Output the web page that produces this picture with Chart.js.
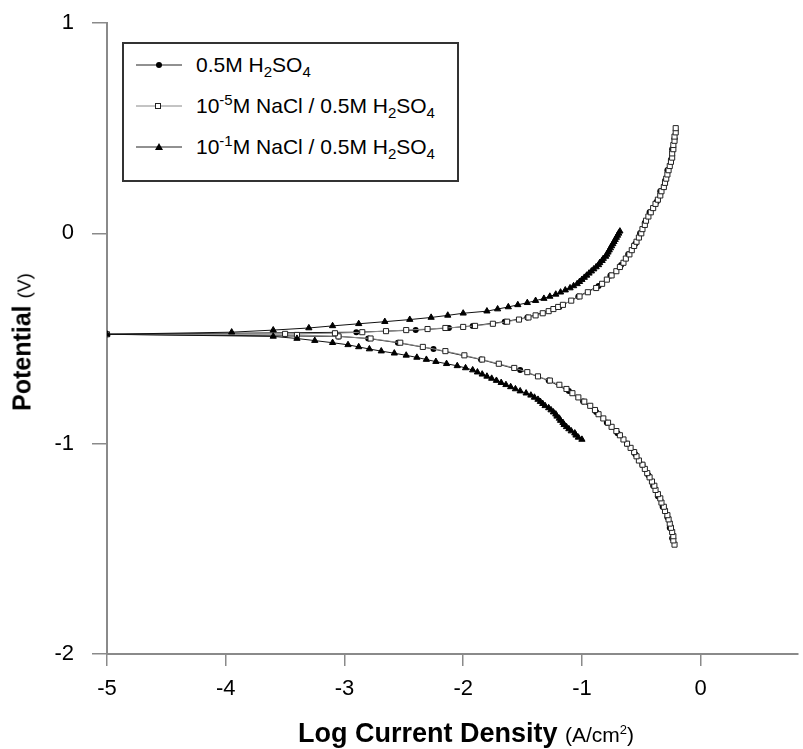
<!DOCTYPE html>
<html>
<head>
<meta charset="utf-8">
<script src="https://cdn.jsdelivr.net/npm/chart.js@4/dist/chart.umd.min.js"></script>
<style>
  html, body { margin: 0; padding: 0; background: #fff; }
  #wrap { position: relative; width: 803px; height: 749px; font-family: "Liberation Sans", Arial, sans-serif; color: #000; }
  #c { position: absolute; left: 0; top: 0; }
  .ttl { position: absolute; white-space: nowrap; font-size: 25px; }
  .ttl b { font-weight: bold; }
  .ttl span { font-size: 19px; }
  #ytitle { left: 22px; top: 342px; transform: translate(-50%, -50%) rotate(-90deg); }
  #xtitle { left: 466px; top: 733px; transform: translate(-50%, -50%); font-size: 27px; }
  #xtitle span { font-size: 21px; }
  #legend { position: absolute; left: 122px; top: 42px; width: 333px; height: 136px; border: 2px solid #333; background: #fff; }
  #legend .row { position: absolute; left: 0; height: 30px; font-size: 21px; line-height: 30px; white-space: nowrap; }
  #legend svg { position: absolute; left: 10px; top: 7px; }
  #legend .txt { position: absolute; left: 72px; top: 0; }
  #legend sub, #legend sup { font-size: 15px; line-height: 0; }
</style>
</head>
<body>
<div id="wrap">
  <canvas id="c" width="803" height="749"></canvas>
  <div id="legend">
    <div class="row" style="top:6px">
      <svg width="50" height="16"><line x1="2" y1="8" x2="48" y2="8" stroke="#222" stroke-width="1"/><circle cx="25" cy="8" r="3" fill="#000"/></svg>
      <span class="txt">0.5M H<sub>2</sub>SO<sub>4</sub></span>
    </div>
    <div class="row" style="top:47px">
      <svg width="50" height="16"><line x1="2" y1="8" x2="48" y2="8" stroke="#888" stroke-width="1"/><rect x="21.5" y="5.5" width="5" height="5" fill="#fff" stroke="#222" stroke-width="1"/></svg>
      <span class="txt">10<sup>-5</sup>M NaCl / 0.5M H<sub>2</sub>SO<sub>4</sub></span>
    </div>
    <div class="row" style="top:88px">
      <svg width="50" height="16"><line x1="2" y1="8" x2="48" y2="8" stroke="#222" stroke-width="1"/><polygon points="25,4 29,11 21,11" fill="#000"/></svg>
      <span class="txt">10<sup>-1</sup>M NaCl / 0.5M H<sub>2</sub>SO<sub>4</sub></span>
    </div>
  </div>
  <div id="ytitle" class="ttl"><b>Potential</b> <span>(V)</span></div>
  <div id="xtitle" class="ttl"><b>Log Current Density</b> <span>(A/cm<sup style="font-size:13px">2</sup>)</span></div>
</div>
<script>
// axes
var xTicks = [-5, -4, -3, -2, -1, 0];
var yTicks = [-2, -1, 0, 1];

// 0.5M H2SO4 (filled circles)
var s1Pot = [-1.45, -1.40, -1.35, -1.30, -1.25, -1.20, -1.15, -1.10, -1.05, -1.00, -0.95, -0.90, -0.85, -0.80, -0.75, -0.70, -0.65, -0.60, -0.55, -0.52, -0.50, -0.49, -0.48,
  -0.47, -0.46, -0.45, -0.44, -0.42, -0.40, -0.35, -0.30, -0.25, -0.20, -0.15, -0.10, -0.05, 0.00, 0.05, 0.10, 0.15, 0.20, 0.25, 0.30, 0.35, 0.40, 0.45];
var s1LogI = [-0.24, -0.26, -0.28, -0.32, -0.36, -0.40, -0.44, -0.49, -0.55, -0.62, -0.70, -0.79, -0.88, -0.99, -1.11, -1.28, -1.52, -1.85, -2.25, -2.55, -2.80, -3.05, -5.0,
  -2.90, -2.40, -2.12, -1.92, -1.65, -1.46, -1.19, -1.03, -0.86, -0.76, -0.67, -0.61, -0.55, -0.51, -0.47, -0.43, -0.37, -0.34, -0.30, -0.28, -0.25, -0.24, -0.22];

// 1e-5 M NaCl / 0.5M H2SO4 (open squares)
var s2Pot = [-1.48, -1.46, -1.44, -1.42, -1.40, -1.38, -1.36, -1.34, -1.32, -1.30, -1.28, -1.26, -1.24, -1.22, -1.20, -1.18, -1.16, -1.14, -1.12, -1.10,
  -1.08, -1.06, -1.04, -1.02, -1.00, -0.98, -0.96, -0.94, -0.92, -0.90, -0.88, -0.86, -0.84, -0.82, -0.80, -0.78, -0.76, -0.74, -0.72, -0.70,
  -0.68, -0.66, -0.64, -0.62, -0.60, -0.58, -0.56, -0.54, -0.52, -0.50, -0.49, -0.483, -0.48,
  -0.478, -0.475, -0.47, -0.465, -0.46, -0.455, -0.45, -0.445, -0.44, -0.43, -0.42, -0.41, -0.40, -0.39, -0.38, -0.37, -0.36, -0.35, -0.34, -0.32,
  -0.30, -0.28, -0.26, -0.24, -0.22, -0.20, -0.18, -0.16, -0.14, -0.12, -0.10, -0.08, -0.06, -0.04, -0.02, 0.00, 0.02, 0.04, 0.06, 0.08,
  0.10, 0.12, 0.14, 0.16, 0.18, 0.20, 0.22, 0.24, 0.26, 0.28, 0.30, 0.32, 0.34, 0.36, 0.38, 0.40, 0.42, 0.44, 0.46, 0.48, 0.50];
var s2LogI = [-0.22, -0.23, -0.23, -0.24, -0.25, -0.26, -0.27, -0.28, -0.30, -0.31, -0.33, -0.34, -0.36, -0.38, -0.39, -0.41, -0.43, -0.45, -0.47, -0.49,
  -0.52, -0.54, -0.56, -0.59, -0.62, -0.65, -0.68, -0.71, -0.75, -0.78, -0.82, -0.86, -0.89, -0.93, -0.98, -1.03, -1.08, -1.13, -1.19, -1.27,
  -1.37, -1.46, -1.57, -1.70, -1.84, -1.99, -2.15, -2.34, -2.53, -2.78, -3.05, -3.4, -5.0,
  -3.5, -3.08, -2.85, -2.65, -2.48, -2.30, -2.15, -2.00, -1.90, -1.75, -1.63, -1.53, -1.45, -1.39, -1.33, -1.28, -1.24, -1.20, -1.16, -1.09,
  -1.02, -0.95, -0.88, -0.83, -0.79, -0.75, -0.71, -0.68, -0.65, -0.63, -0.60, -0.58, -0.56, -0.54, -0.52, -0.50, -0.49, -0.47, -0.46, -0.44,
  -0.42, -0.40, -0.38, -0.36, -0.34, -0.33, -0.31, -0.30, -0.29, -0.28, -0.27, -0.26, -0.25, -0.24, -0.24, -0.23, -0.23, -0.22, -0.22, -0.21, -0.21];

// 1e-1 M NaCl / 0.5M H2SO4 (filled triangles)
var s3Pot = [-0.98, -0.97, -0.96, -0.95, -0.94, -0.93, -0.92, -0.91, -0.90, -0.89, -0.88, -0.87, -0.86, -0.85, -0.84, -0.83, -0.82, -0.81, -0.80, -0.79,
  -0.78, -0.77, -0.76, -0.75, -0.74, -0.73, -0.72, -0.71, -0.70, -0.69, -0.68, -0.67, -0.66, -0.65, -0.64, -0.63, -0.62, -0.61, -0.60, -0.59,
  -0.58, -0.57, -0.56, -0.55, -0.54, -0.53, -0.52, -0.51, -0.50, -0.49, -0.48,
  -0.47, -0.46, -0.45, -0.44, -0.43, -0.42, -0.41, -0.40, -0.39, -0.38, -0.37, -0.36, -0.35, -0.34, -0.33, -0.32, -0.31, -0.30, -0.29, -0.28,
  -0.27, -0.26, -0.25, -0.24, -0.23, -0.22, -0.21, -0.20, -0.19, -0.18, -0.17, -0.16, -0.15, -0.14, -0.13, -0.12, -0.11, -0.10, -0.09, -0.08,
  -0.07, -0.06, -0.05, -0.04, -0.03, -0.02, -0.01, 0.00, 0.01];
var s3LogI = [-1.00, -1.03, -1.05, -1.06, -1.09, -1.11, -1.13, -1.15, -1.16, -1.18, -1.19, -1.21, -1.22, -1.24, -1.26, -1.28, -1.31, -1.33, -1.35, -1.37,
  -1.40, -1.43, -1.47, -1.52, -1.56, -1.60, -1.64, -1.68, -1.72, -1.76, -1.80, -1.84, -1.88, -1.92, -1.98, -2.05, -2.14, -2.23, -2.31, -2.39,
  -2.48, -2.58, -2.69, -2.79, -2.88, -2.97, -3.10, -3.25, -3.40, -3.60, -5.0,
  -3.95, -3.60, -3.30, -3.10, -2.88, -2.66, -2.45, -2.27, -2.13, -2.00, -1.80, -1.71, -1.62, -1.54, -1.46, -1.39, -1.32, -1.27, -1.22, -1.18,
  -1.14, -1.10, -1.07, -1.04, -1.02, -1.00, -0.98, -0.96, -0.94, -0.92, -0.90, -0.88, -0.86, -0.85, -0.83, -0.82, -0.80, -0.79, -0.78, -0.77,
  -0.76, -0.75, -0.74, -0.73, -0.72, -0.71, -0.70, -0.69, -0.68];

(function () {
  "use strict";
  var AXE = "#8a8a8a";
  var POLICE = "'Liberation Sans', Arial, sans-serif";

  function points(pot, logI) {
    return pot.map(function (p, i) { return { x: logI[i], y: p }; });
  }
  function garder(liste) {
    return function (s) { s.ticks = liste.map(function (v) { return { value: v }; }); };
  }

  new Chart(document.getElementById("c"), {
    type: "line",
    data: {
      datasets: [
        { data: points(s2Pot, s2LogI), borderColor: "#8c8c8c", borderWidth: 1, pointStyle: "rect", pointRadius: 3.6,
          pointBackgroundColor: "#fff", pointBorderColor: "#222", pointBorderWidth: 1, order: 1 },
        { data: points(s3Pot, s3LogI), borderColor: "#111", borderWidth: 1, pointStyle: "triangle", pointRadius: 3.6,
          pointBackgroundColor: "#000", pointBorderColor: "#000", pointBorderWidth: 1, order: 0 },
        { data: points(s1Pot, s1LogI), borderColor: "#111", borderWidth: 1, pointStyle: "circle", pointRadius: 3,
          pointBackgroundColor: "#000", pointBorderColor: "#000", pointBorderWidth: 0, order: 2 }
      ]
    },
    options: {
      responsive: false,
      animation: false,
      devicePixelRatio: 1,
      layout: { padding: { top: 23, right: -4, bottom: 0, left: 0 } },
      plugins: { legend: { display: false }, tooltip: { enabled: false } },
      elements: { line: { tension: 0 } },
      scales: {
        x: {
          type: "linear", min: -5, max: 0.82,
          afterBuildTicks: garder(xTicks),
          afterFit: function (s) { s.height = 95; s.paddingLeft = 0; s.paddingRight = 0; },
          border: { color: AXE, width: 2 },
          grid: { drawOnChartArea: false, drawTicks: true, tickLength: 12, color: AXE, lineWidth: 1.5 },
          ticks: { color: "#000", font: { family: POLICE, size: 22 }, padding: 10, maxRotation: 0 }
        },
        y: {
          type: "linear", min: -2, max: 1,
          afterBuildTicks: garder(yTicks),
          afterFit: function (s) { s.width = 107; s.paddingTop = 0; s.paddingBottom = 0; },
          border: { color: AXE, width: 2 },
          grid: { drawOnChartArea: false, drawTicks: true, tickLength: 15, color: AXE, lineWidth: 1.5 },
          ticks: { color: "#000", font: { family: POLICE, size: 22 }, padding: 18 }
        }
      }
    }
  });
})();
</script>
</body>
</html>
